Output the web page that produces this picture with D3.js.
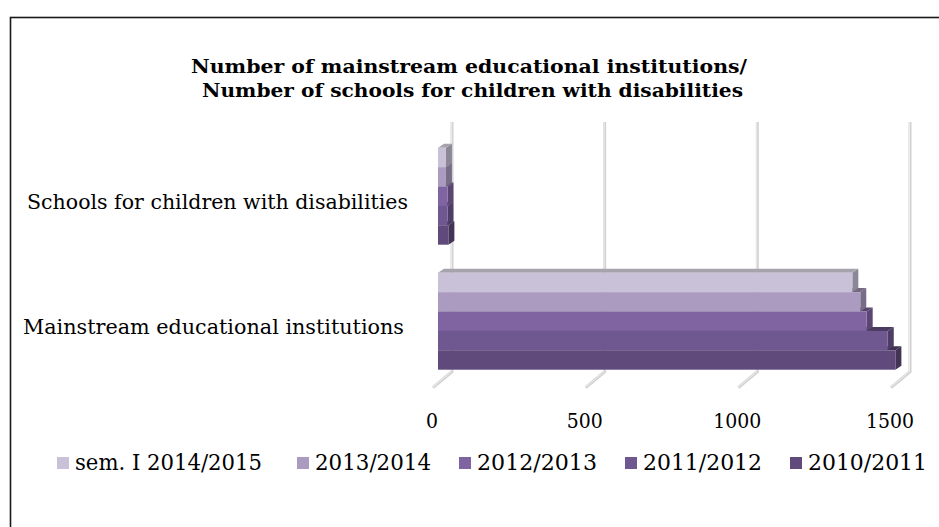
<!DOCTYPE html>
<html>
<head>
<meta charset="utf-8">
<script src="https://cdn.jsdelivr.net/npm/d3@7"></script>
<style>
  html, body { margin: 0; padding: 0; background: #fff; }
  svg { display: block; }
  text { font-family: "DejaVu Serif", "Liberation Serif", serif; fill: #000; }
</style>
</head>
<body>
<svg id="chart" width="939" height="527"></svg>
<script>
// Institution counts by school year
const categories = ["Schools for children with disabilities", "Mainstream educational institutions"];
const seriesNames = ["sem. I 2014/2015", "2013/2014", "2012/2013", "2011/2012", "2010/2011"];
const disabilitiesSchools = [26, 26, 31, 31, 34];
const mainstreamInstitutions = [1357, 1383, 1404, 1473, 1498];
const tickValues = [0, 500, 1000, 1500];
const titleLines = ["Number of mainstream educational institutions/", " Number of schools for children with disabilities"];

const seriesColors = ["#c8c1d8", "#ab9bc0", "#8064a2", "#6f578f", "#5f4a7b"];

const valuesByCategory = {
  [categories[0]]: disabilitiesSchools,
  [categories[1]]: mainstreamInstitutions
};

const svg = d3.select("#chart");

// chart frame
svg.append("rect")
  .attr("x", 10.5).attr("y", 17.5)
  .attr("width", 960).attr("height", 540)
  .attr("fill", "#fff").attr("stroke", "#1a1a1a").attr("stroke-width", 1.6);

// title
const title = svg.append("g");
titleLines.forEach((t, i) => {
  title.append("text")
    .attr("x", 469).attr("y", 73 + i * 24)
    .attr("text-anchor", "middle")
    .attr("font-size", 18.5).attr("font-weight", "bold")
    .attr("textLength", i === 0 ? 556 : 548)
    .attr("lengthAdjust", "spacingAndGlyphs")
    .attr("xml:space", "preserve")
    .text(t);
});

// scales on the front plane of the bars
const x = d3.scaleLinear().domain([0, 1500]).range([438, 896]);
const yCat = d3.scaleBand().domain(categories).range([133.7, 383.7])
  .paddingInner(0.224).paddingOuter(0.112);
const ySer = d3.scaleBand().domain(seriesNames).range([0, yCat.bandwidth()]);

// 3D offsets
const wall = { dx: 14, dy: -12 };     // back wall relative to bar front plane
const floorFront = { dx: -5, dy: 4 }; // front edge of floor
const barDepth = { dx: 6, dy: -4 };   // depth of each bar
const wallTop = 122;
const floorY = yCat.range()[1];

// gridlines on the back wall and their floor traces
const grid = svg.append("g");
tickValues.forEach(v => {
  const gx = x(v) + wall.dx;
  const gy = floorY + wall.dy;
  const path = `M${gx},${wallTop} L${gx},${gy} L${x(v) + floorFront.dx},${floorY + floorFront.dy}`;
  grid.append("path").attr("d", path)
    .attr("fill", "none").attr("stroke", "#d2d2d2").attr("stroke-width", 3);
  grid.append("path").attr("d", path)
    .attr("fill", "none").attr("stroke", "#eeeeee").attr("stroke-width", 1)
    .attr("transform", "translate(-0.6,0)");
});

// bars
const bars = svg.append("g");
categories.forEach(cat => {
  const vals = valuesByCategory[cat];
  // lower bars first so the bar above covers its top face
  for (let i = seriesNames.length - 1; i >= 0; i--) {
    const c = d3.color(seriesColors[i]);
    const x0 = x(0), x1 = x(vals[i]);
    const yT = yCat(cat) + ySer(seriesNames[i]);
    const yB = yT + ySer.bandwidth();
    const side = c.darker(1.0);
    const top = d3.hsl(c.darker(0.55)); top.s *= 0.55;
    bars.append("path")
      .attr("d", `M${x1},${yT} L${x1 + barDepth.dx},${yT + barDepth.dy} L${x1 + barDepth.dx},${yB + barDepth.dy} L${x1},${yB} Z`)
      .attr("fill", side);
    bars.append("path")
      .attr("d", `M${x0},${yT} L${x0 + barDepth.dx},${yT + barDepth.dy} L${x1 + barDepth.dx},${yT + barDepth.dy} L${x1},${yT} Z`)
      .attr("fill", i === 0 ? top : c.darker(1.1));
    bars.append("rect")
      .attr("x", x0).attr("y", yT)
      .attr("width", x1 - x0).attr("height", ySer.bandwidth())
      .attr("fill", c);
  }
});

// value axis labels
const xAxis = svg.append("g");
tickValues.forEach(v => {
  xAxis.append("text")
    .attr("x", x(v) + floorFront.dx - 1).attr("y", 428)
    .attr("text-anchor", "middle")
    .attr("font-size", 20.5)
    .attr("textLength", String(v).length * 12)
    .attr("lengthAdjust", "spacingAndGlyphs")
    .text(v);
});

// category labels
const catWidths = [381, 381];
const catAnchors = [408, 404];
categories.forEach((cat, i) => {
  svg.append("text")
    .attr("x", catAnchors[i]).attr("y", yCat(cat) + yCat.bandwidth() / 2 + 13)
    .attr("text-anchor", "end")
    .attr("font-size", 20.5)
    .attr("textLength", catWidths[i])
    .attr("lengthAdjust", "spacingAndGlyphs")
    .text(cat);
});

// legend
const legendWidths = [187, 116, 120, 119, 119];
const legend = svg.append("g");
let lx = 57;
seriesNames.forEach((name, i) => {
  legend.append("rect")
    .attr("x", lx).attr("y", 457)
    .attr("width", 12).attr("height", 12)
    .attr("fill", seriesColors[i]);
  legend.append("text")
    .attr("x", lx + 18).attr("y", 470)
    .attr("font-size", 22.5)
    .attr("textLength", legendWidths[i])
    .attr("lengthAdjust", "spacingAndGlyphs")
    .text(name);
  lx += 18 + legendWidths[i] + (i === 0 ? 35 : 28);
});
</script>
</body>
</html>
